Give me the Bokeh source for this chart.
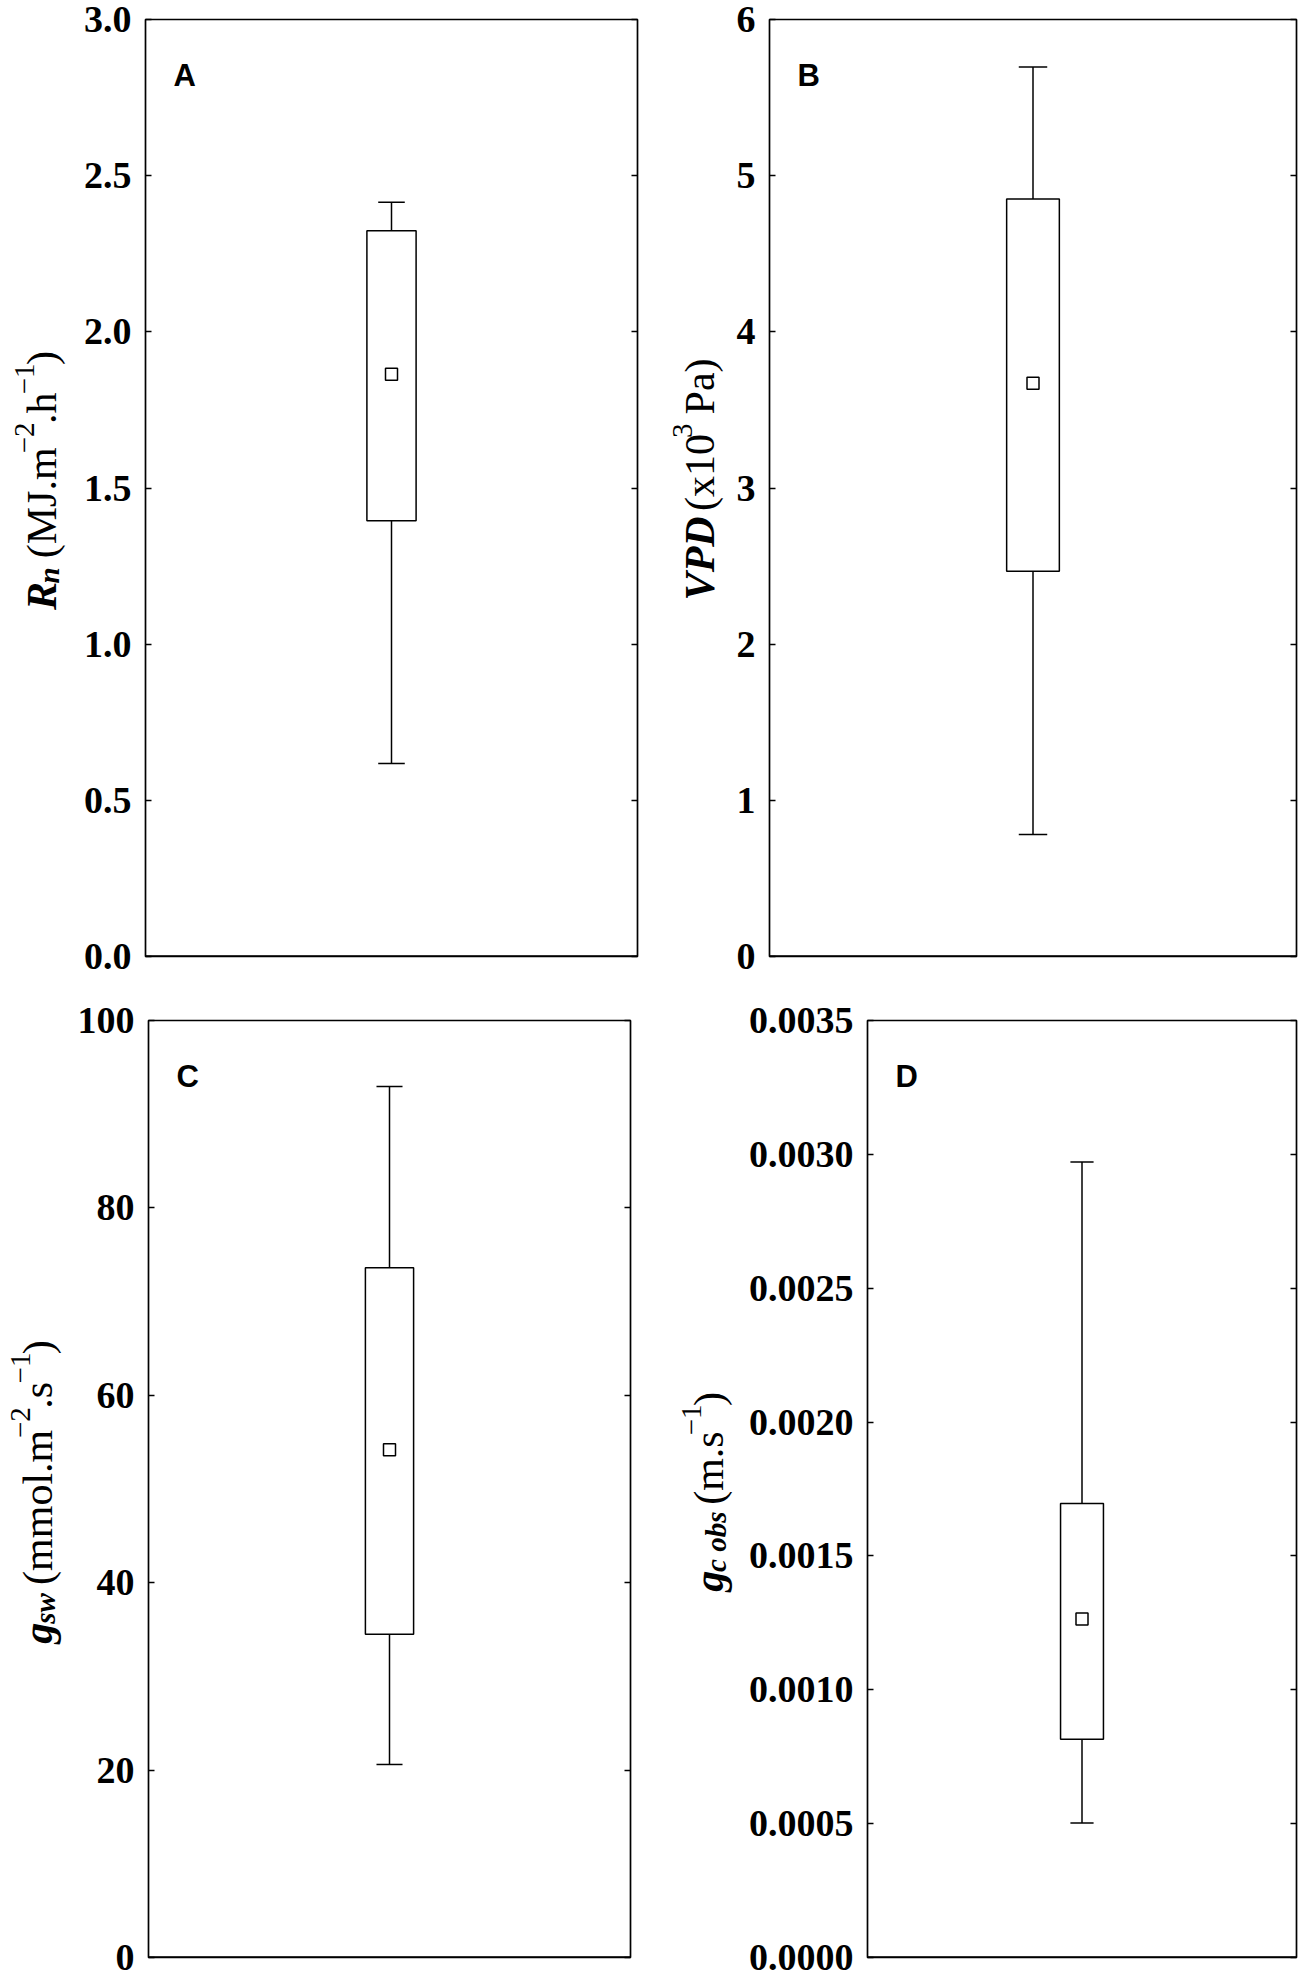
from math import pi
from bokeh.plotting import figure
from bokeh.layouts import column, row
from bokeh.models import (Range1d, FixedTicker, PrintfTickFormatter,
                          CustomJSTickFormatter, LinearAxis, Label, Span)
from bokeh.core.properties import value
from bokeh.embed import file_html
from bokeh.resources import INLINE

# ---------------- data ----------------
panel_letters = ["A", "B", "C", "D"]
y_upper = [3.0, 6.0, 100.0, 0.0035]
ticks_A = [0.0, 0.5, 1.0, 1.5, 2.0, 2.5, 3.0]
ticks_B = [0, 1, 2, 3, 4, 5, 6]
ticks_C = [0, 20, 40, 60, 80, 100]
ticks_D = [0.0, 0.0005, 0.0010, 0.0015, 0.0020, 0.0025, 0.0030, 0.0035]
tick_sets = [ticks_A, ticks_B, ticks_C, ticks_D]
tick_formats = ["%.1f", "%.0f", "%.0f", "%.4f"]

whisker_low = [0.618, 0.782, 20.6, 0.000502]
box_q1 = [1.395, 2.467, 34.5, 0.000815]
box_q3 = [2.324, 4.85, 73.6, 0.001696]
whisker_high = [2.415, 5.696, 92.96, 0.002971]
box_mean = [1.864, 3.67, 54.2, 0.001264]

# axis titles: (text, role, style)  role: main / sub / sup / gap
titles = [
    [("R", "main", "bold italic"), ("n", "sub", "bold italic"), (" ", "gap", "normal"),
     ("(MJ.m", "main", "normal"), ("\u22122", "sup", "normal"), (".h", "main", "normal"),
     ("\u22121", "sup", "normal"), (")", "main", "normal")],
    [("VPD", "main", "bold italic"), (" ", "gap", "normal"), ("(x10", "main", "normal"),
     ("3", "sup", "normal"), (" ", "gap", "normal"), ("Pa)", "main", "normal")],
    [("g", "main", "bold italic"), ("sw", "sub", "bold italic"), (" ", "gap", "normal"),
     ("(mmol.m", "main", "normal"), ("\u22122", "sup", "normal"), (".s", "main", "normal"),
     ("\u22121", "sup", "normal"), (")", "main", "normal")],
    [("g", "main", "bold italic"), ("c obs", "sub", "bold italic"), (" ", "gap", "normal"),
     ("(m.s", "main", "normal"), ("\u22121", "sup", "normal"), (")", "main", "normal")],
]

# ---------------- styling ----------------
SERIF = "Liberation Serif"
SANS = "Liberation Sans"
TICK_PX = 38
MAIN_PX = 42
SCRIPT_PX = 29
SHIFT = {"main": 0, "gap": 0, "sub": -7, "sup": 17}
BOX_X = 0.5
BOX_HALF = 0.05
CAP_HALF = 0.027
FRAME_H = 937

W_REG = {' ': 250, '(': 333, ')': 333, '.': 250, 'M': 889, 'J': 389, 'm': 778,
         'h': 500, 'o': 500, 'l': 278, 's': 389, 'x': 500, 'P': 556, 'a': 444,
         '\u2212': 564}
W_BI = {' ': 250, 'R': 667, 'n': 556, 'V': 667, 'P': 611, 'D': 722, 'g': 500,
        's': 389, 'w': 667, 'c': 444, 'o': 500, 'b': 500}


def text_w(t, px, style):
    tab = W_BI if "italic" in style else W_REG
    return sum(tab.get(ch, 500) for ch in t) * px / 1000.0


# panel geometry: (fig width, fig height, border l, r, t, b)
geo = [
    (580, 990, 75, 13, 19, 34),
    (569, 990, 39, 3, 19, 34),
    (570, 990, 78, 10, 30, 23),
    (554, 990, 122, 3, 30, 23),
]
# title strip geometry: (width, text anchor x inside strip, frame top within fig)
title_geo = [
    (70, 41, 19),
    (80, 49, 19),
    (70, 37, 30),
    (105, 68, 30),
]


def make_title(i):
    w, base_x, ftop = title_geo[i]
    H = geo[i][1]
    t = figure(width=w, height=H, x_range=Range1d(0, w), y_range=Range1d(0, H),
               output_backend="svg", toolbar_location=None,
               x_axis_location=None, y_axis_location=None,
               min_border_left=0, min_border_right=0, min_border_top=0,
               min_border_bottom=0)
    t.grid.visible = False
    t.outline_line_color = None
    t.background_fill_color = "white"
    t.border_fill_color = "white"
    segs = titles[i]
    widths = []
    for s, role, style in segs:
        px = MAIN_PX if role in ("main", "gap") else SCRIPT_PX
        widths.append(text_w(s, px, style))
    total = sum(widths)
    center = H - ftop - FRAME_H / 2
    y = center - total / 2
    for (s, role, style), sw in zip(segs, widths):
        if role != "gap":
            px = MAIN_PX if role == "main" else SCRIPT_PX
            t.text(x=[base_x - SHIFT[role]], y=[y], text=[s], angle=pi / 2,
                   text_font=value(SERIF), text_font_style=style,
                   text_font_size=value(f"{px}px"), text_color="black",
                   text_align="left", text_baseline="alphabetic")
        y += sw
    return t


def make_panel(i):
    W, H, bl, br, bt, bb = geo[i]
    p = figure(width=W, height=H, x_range=Range1d(0, 1), y_range=Range1d(0, y_upper[i]),
               output_backend="svg", toolbar_location=None, x_axis_location=None,
               y_axis_location="left", min_border_left=bl, min_border_right=br,
               min_border_top=bt, min_border_bottom=bb)
    p.grid.visible = False
    p.outline_line_color = "black"
    p.outline_line_width = 1.7
    p.outline_line_alpha = 1.0
    p.background_fill_color = "white"
    p.border_fill_color = "white"

    ax = p.yaxis[0]
    ax.ticker = FixedTicker(ticks=tick_sets[i])
    ax.formatter = PrintfTickFormatter(format=tick_formats[i])
    ax.major_tick_in = 6
    ax.major_tick_out = 0
    ax.major_tick_line_width = 1.5
    ax.minor_tick_line_color = None
    ax.axis_line_color = None
    ax.major_label_text_font = SERIF
    ax.major_label_text_font_size = f"{TICK_PX}px"
    ax.major_label_text_font_style = "bold"
    ax.major_label_text_color = "black"
    ax.major_label_standoff = 14

    rax = LinearAxis(ticker=FixedTicker(ticks=tick_sets[i]),
                     formatter=CustomJSTickFormatter(code="return ''"),
                     major_tick_in=6, major_tick_out=0, major_tick_line_width=1.5,
                     minor_tick_line_color=None, axis_line_color=None,
                     major_label_standoff=0)
    p.add_layout(rax, "right")

    # heavier bottom frame edge, as in the reference
    p.add_layout(Span(location=0, dimension="width", line_color="black",
                      line_width=2.6))

    # box plot from data
    p.segment(x0=[BOX_X, BOX_X], y0=[box_q3[i], box_q1[i]],
              x1=[BOX_X, BOX_X], y1=[whisker_high[i], whisker_low[i]],
              line_color="black", line_width=1.5)
    p.segment(x0=[BOX_X - CAP_HALF] * 2, y0=[whisker_high[i], whisker_low[i]],
              x1=[BOX_X + CAP_HALF] * 2, y1=[whisker_high[i], whisker_low[i]],
              line_color="black", line_width=1.5)
    p.quad(left=[BOX_X - BOX_HALF], right=[BOX_X + BOX_HALF],
           bottom=[box_q1[i]], top=[box_q3[i]],
           fill_color="white", line_color="black", line_width=1.5)
    p.scatter(x=[BOX_X], y=[box_mean[i]], marker="square", size=12,
              fill_color="white", line_color="black", line_width=1.5)

    # panel letter
    p.add_layout(Label(x=28, y=FRAME_H - 56, x_units="screen", y_units="screen",
                       text=panel_letters[i], text_font=SANS,
                       text_font_style="bold", text_font_size="31px",
                       text_color="black", text_baseline="alphabetic",
                       text_align="left"))
    return p


panels = [make_panel(i) for i in range(4)]
strips = [make_title(i) for i in range(4)]
layout = column(row(strips[0], panels[0], strips[1], panels[1]),
                row(strips[2], panels[2], strips[3], panels[3]))

open("out.html", "w").write(file_html(layout, INLINE))
